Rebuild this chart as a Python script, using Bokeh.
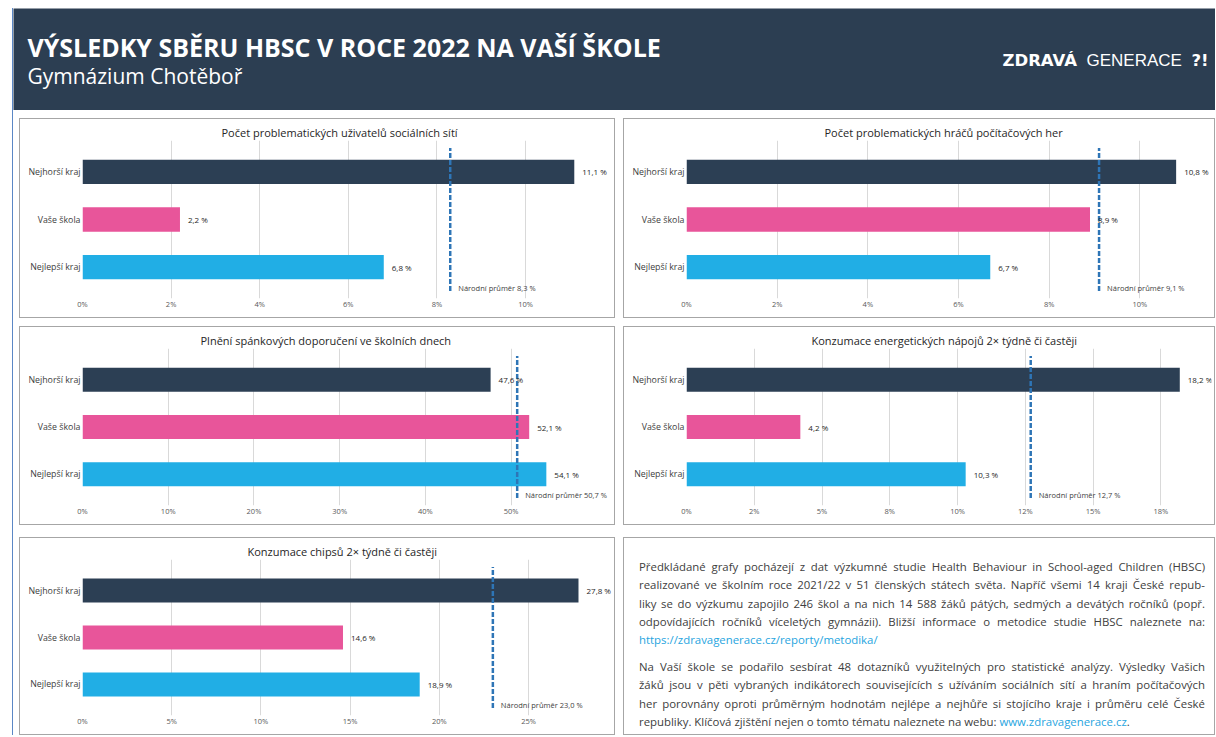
from bokeh.plotting import figure
from bokeh.models import ColumnDataSource, FactorRange, Range1d, LabelSet, Label, FixedTicker, Div, Spacer
from bokeh.layouts import column, row
from bokeh.embed import file_html
from bokeh.resources import INLINE
from bokeh.core.properties import value

# ---------------- data ----------------
CATEGORIES = ["Nejhorší kraj", "Vaše škola", "Nejlepší kraj"]

SOCIAL_TITLE = "Počet problematických uživatelů sociálních sítí"
SOCIAL_VALUES = [11.1, 2.2, 6.8]
SOCIAL_NATIONAL = 8.3
SOCIAL_TICKS = [0, 2, 4, 6, 8, 10]
SOCIAL_TICK_LABELS = ["0%", "2%", "4%", "6%", "8%", "10%"]

GAMES_TITLE = "Počet problematických hráčů počítačových her"
GAMES_VALUES = [10.8, 8.9, 6.7]
GAMES_NATIONAL = 9.1
GAMES_TICKS = [0, 2, 4, 6, 8, 10]
GAMES_TICK_LABELS = ["0%", "2%", "4%", "6%", "8%", "10%"]

SLEEP_TITLE = "Plnění spánkových doporučení ve školních dnech"
SLEEP_VALUES = [47.6, 52.1, 54.1]
SLEEP_NATIONAL = 50.7
SLEEP_TICKS = [0, 10, 20, 30, 40, 50]
SLEEP_TICK_LABELS = ["0%", "10%", "20%", "30%", "40%", "50%"]

ENERGY_TITLE = "Konzumace energetických nápojů 2× týdně či častěji"
ENERGY_VALUES = [18.2, 4.2, 10.3]
ENERGY_NATIONAL = 12.7
ENERGY_TICKS = [0, 2.5, 5, 7.5, 10, 12.5, 15, 17.5]
ENERGY_TICK_LABELS = ["0%", "2%", "5%", "8%", "10%", "12%", "15%", "18%"]

CHIPS_TITLE = "Konzumace chipsů 2× týdně či častěji"
CHIPS_VALUES = [27.8, 14.6, 18.9]
CHIPS_NATIONAL = 23.0
CHIPS_TICKS = [0, 5, 10, 15, 20, 25]
CHIPS_TICK_LABELS = ["0%", "5%", "10%", "15%", "20%", "25%"]

HEADER_TITLE = "VÝSLEDKY SBĚRU HBSC V ROCE 2022 NA VAŠÍ ŠKOLE"
HEADER_SUBTITLE = "Gymnázium Chotěboř"
LOGO_PARTS = ["ZDRAVÁ", "GENERACE", "?!"]

PARAGRAPH_1 = [
    "Předkládané grafy pocházejí z dat výzkumné studie Health Behaviour in School-aged Children (HBSC)",
    "realizované ve školním roce 2021/22 v 51 členských státech světa. Napříč všemi 14 kraji České repub-",
    "liky se do výzkumu zapojilo 246 škol a na nich 14 588 žáků pátých, sedmých a devátých ročníků (popř.",
    "odpovídajících ročníků víceletých gymnázii). Bližší informace o metodice studie HBSC naleznete na:",
]
LINK_1 = "https://zdravagenerace.cz/reporty/metodika/"
PARAGRAPH_2 = [
    "Na Vaší škole se podařilo sesbírat 48 dotazníků využitelných pro statistické analýzy. Výsledky Vašich",
    "žáků jsou v pěti vybraných indikátorech souvisejících s užíváním sociálních sítí a hraním počítačových",
    "her porovnány oproti průměrným hodnotám nejlépe a nejhůře si stojícího kraje i průměru celé České",
]
LAST_LINE_2 = "republiky. Klíčová zjištění nejen o tomto tématu naleznete na webu: "
LINK_2 = "www.zdravagenerace.cz"

# ---------------- style ----------------
HEADER_BG = "#2C3E52"
BAR_COLORS = ["#2C3F54", "#E8559A", "#21AEE5"]
NATIONAL_COLOR = "#2E75B6"
GRID_COLOR = "#D9D9D9"
PANEL_BORDER = "#A6A6A6"
LINK_COLOR = "#1FA5E0"
EDGE_BLUE = "#5B87C5"
FONT = "Open Sans"

LW, RW = 596, 592          # left / right panel widths
FRAME_LEFT, FRAME_RIGHT = 63, 4


def fmt(v):
    return f"{v:.1f}".replace(".", ",") + " %"


def make_chart(title, values, national, ticks, tick_labels, xmax, width, height, title_offset):
    src = ColumnDataSource(dict(
        cat=CATEGORIES,
        val=values,
        label=[fmt(v) for v in values],
        color=BAR_COLORS,
    ))
    p = figure(
        width=width, height=height,
        y_range=FactorRange(*reversed(CATEGORIES), range_padding=0.16, range_padding_units="absolute"),
        x_range=Range1d(0, xmax),
        output_backend="svg", toolbar_location=None,
        min_border_left=FRAME_LEFT, min_border_right=FRAME_RIGHT,
        min_border_top=22, min_border_bottom=20,
    )
    p.styles = {"box-shadow": f"inset 0 0 0 1px {PANEL_BORDER}"}
    p.background_fill_color = None
    p.border_fill_color = None
    p.outline_line_color = None

    p.title.text = title
    p.title.align = "left"
    p.title.offset = title_offset
    p.title.text_font = FONT
    p.title.text_font_size = "11px"
    p.title.text_font_style = "normal"
    p.title.text_color = "#262626"
    p.title.standoff = 2

    p.hbar(y="cat", left=0, right="val", height=0.51, fill_color="color", line_color=None, source=src)
    p.segment(x0=[national], y0=[0], x1=[national], y1=[3], line_color=NATIONAL_COLOR,
              line_width=2.5, line_dash="5 2")

    p.add_layout(LabelSet(x="val", y="cat", text="label", source=src, x_offset=8,
                          text_baseline="middle", text_font=value(FONT), text_font_size="8px",
                          text_color="#262626"))
    p.add_layout(Label(x=national, y=0.07, x_offset=8, text=f"Národní průměr {fmt(national)}",
                       text_baseline="middle", text_font=FONT, text_font_size="7.5px",
                       text_color="#404040"))

    p.xaxis.ticker = FixedTicker(ticks=ticks)
    p.xaxis.major_label_overrides = {t: l for t, l in zip(ticks, tick_labels)}
    for ax in (p.xaxis[0], p.yaxis[0]):
        ax.axis_line_color = None
        ax.major_tick_line_color = None
        ax.minor_tick_line_color = None
        ax.major_tick_out = 0
        ax.major_tick_in = 0
        ax.minor_tick_out = 0
        ax.major_label_text_font = FONT
    p.xaxis.major_label_text_font_size = "7.5px"
    p.xaxis.major_label_text_color = "#595959"
    p.xaxis.major_label_standoff = 0
    p.yaxis.major_label_text_font_size = "8.8px"
    p.yaxis.major_label_text_color = "#404040"
    p.yaxis.major_label_standoff = 2

    p.xgrid.ticker = FixedTicker(ticks=ticks)
    p.xgrid.grid_line_color = GRID_COLOR
    p.ygrid.grid_line_color = None
    return p


H1, H2, H3 = 200, 199, 198
p1 = make_chart(SOCIAL_TITLE, SOCIAL_VALUES, SOCIAL_NATIONAL, SOCIAL_TICKS, SOCIAL_TICK_LABELS, 11.94, LW, H1, 139)
p2 = make_chart(GAMES_TITLE, GAMES_VALUES, GAMES_NATIONAL, GAMES_TICKS, GAMES_TICK_LABELS, 11.58, RW, H1, 138)
p3 = make_chart(SLEEP_TITLE, SLEEP_VALUES, SLEEP_NATIONAL, SLEEP_TICKS, SLEEP_TICK_LABELS, 61.7, LW, H2, 118)
p4 = make_chart(ENERGY_TITLE, ENERGY_VALUES, ENERGY_NATIONAL, ENERGY_TICKS, ENERGY_TICK_LABELS, 19.37, RW, H2, 125)
p5 = make_chart(CHIPS_TITLE, CHIPS_VALUES, CHIPS_NATIONAL, CHIPS_TICKS, CHIPS_TICK_LABELS, 29.65, LW, H3, 165)

# ---------------- header ----------------
HW, HH = 1202, 102
header = figure(width=HW, height=HH, x_range=Range1d(0, HW), y_range=Range1d(HH, 0),
                x_axis_type=None, y_axis_type=None, output_backend="svg", toolbar_location=None,
                min_border=0)
header.background_fill_color = HEADER_BG
header.border_fill_color = HEADER_BG
header.outline_line_color = None
header.add_layout(Label(x=14, y=38, text=HEADER_TITLE, text_baseline="middle", text_font=FONT,
                        text_font_size="25px", text_font_style="bold", text_color="white"))
header.add_layout(Label(x=14, y=67, text=HEADER_SUBTITLE, text_baseline="middle", text_font=FONT,
                        text_font_size="21px", text_color="white"))
logo_x = [989, 1073, 1178]
logo_font = ["DejaVu Sans", "Liberation Sans", "DejaVu Sans"]
logo_size = ["16.5px", "17px", "16.5px"]
logo_style = ["bold", "normal", "bold"]
for t, x, f, s, st in zip(LOGO_PARTS, logo_x, logo_font, logo_size, logo_style):
    header.add_layout(Label(x=x, y=52, text=t, text_baseline="middle", text_font=f,
                            text_font_size=s, text_font_style=st, text_color="white"))

# ---------------- text panel ----------------
def jline(t):
    return f'<div style="text-align:justify;text-align-last:justify;">{t}</div>'


html = (
    f'<div style="box-sizing:border-box;width:{RW}px;height:{H3}px;border:1px solid {PANEL_BORDER};'
    f'padding:20px 9px 0 15px;font-family:\'Open Sans\';font-size:11.4px;line-height:18.3px;color:#404040;">'
    + "".join(jline(t) for t in PARAGRAPH_1)
    + f'<div style="color:{LINK_COLOR};">{LINK_1}</div>'
    + '<div style="height:8.7px;"></div>'
    + "".join(jline(t) for t in PARAGRAPH_2)
    + f'<div>{LAST_LINE_2}<span style="color:{LINK_COLOR};">{LINK_2}</span>.</div>'
    + "</div>"
)
txt = Div(text=html, width=RW, height=H3, margin=0)

row1 = row(Spacer(width=6, height=H1), p1, Spacer(width=8, height=H1), p2)
row2 = row(Spacer(width=6, height=H2), p3, Spacer(width=8, height=H2), p4)
row3 = row(Spacer(width=6, height=H3), p5, Spacer(width=8, height=H3), txt)
content = column(header, Spacer(width=HW, height=8), row1, Spacer(width=HW, height=8), row2,
                 Spacer(width=HW, height=12), row3)
total_h = HH + 8 + H1 + 8 + H2 + 12 + H3
edge = Spacer(width=1, height=total_h, styles={"background-color": EDGE_BLUE})
page = column(Spacer(width=10, height=8), row(Spacer(width=12, height=total_h), edge, content))

open("out.html", "w").write(file_html(page, INLINE))
